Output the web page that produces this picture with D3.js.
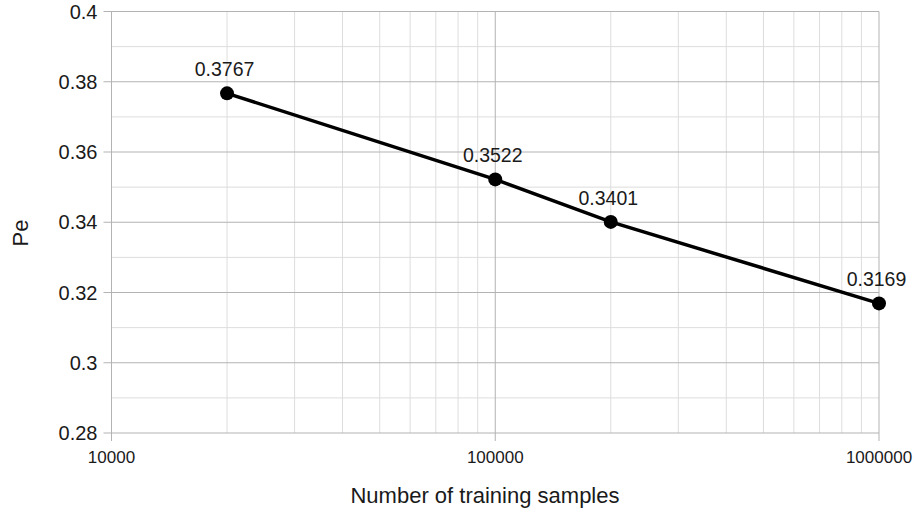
<!DOCTYPE html>
<html>
<head>
<meta charset="utf-8">
<script src="https://cdn.jsdelivr.net/npm/d3@7"></script>
<style>
  body { margin: 0; background: #fff; }
  text { font-family: "Liberation Sans", Arial, sans-serif; fill: #1a1a1a; }
</style>
</head>
<body>
<div id="chart"></div>
<script>
// data
const samples = [20000, 100000, 200000, 1000000];
const pe = [0.3767, 0.3522, 0.3401, 0.3169];
const peLabels = ['0.3767', '0.3522', '0.3401', '0.3169'];
const xTicks = [10000, 100000, 1000000];
const yTicks = [0.28, 0.3, 0.32, 0.34, 0.36, 0.38, 0.4];

const W = 914, H = 512;
const plot = { left: 111.5, right: 879, top: 11.5, bottom: 433 };

const svg = d3.select('#chart')
    .append('svg')
    .attr('width', W)
    .attr('height', H);

const x = d3.scaleLog()
    .domain([10000, 1000000])
    .range([plot.left, plot.right]);

const y = d3.scaleLinear()
    .domain([0.28, 0.4])
    .range([plot.bottom, plot.top]);

// minor grid: 2..9 of each decade, and every 0.01
const xMinor = x.ticks().filter(v => !xTicks.includes(v));
const yMinor = d3.range(0.29, 0.4, 0.02);

const grid = svg.append('g');

grid.selectAll('.xminor')
    .data(xMinor)
    .join('line')
    .attr('x1', d => x(d)).attr('x2', d => x(d))
    .attr('y1', plot.top).attr('y2', plot.bottom)
    .attr('stroke', '#dddddd');

grid.selectAll('.yminor')
    .data(yMinor)
    .join('line')
    .attr('x1', plot.left).attr('x2', plot.right)
    .attr('y1', d => y(d)).attr('y2', d => y(d))
    .attr('stroke', '#dddddd');

// major grid lines, these also reach out as ticks
grid.selectAll('.ymajor')
    .data(yTicks)
    .join('line')
    .attr('x1', plot.left - 8).attr('x2', plot.right)
    .attr('y1', d => y(d)).attr('y2', d => y(d))
    .attr('stroke', '#b3b3b3');

grid.selectAll('.xmajor')
    .data(xTicks)
    .join('line')
    .attr('x1', d => x(d)).attr('x2', d => x(d))
    .attr('y1', plot.top).attr('y2', plot.bottom + 8)
    .attr('stroke', '#b3b3b3');

// tick labels
svg.append('g')
    .selectAll('text')
    .data(yTicks)
    .join('text')
    .attr('x', plot.left - 14)
    .attr('y', d => y(d))
    .attr('text-anchor', 'end')
    .attr('dominant-baseline', 'central')
    .style('font-size', '20px')
    .text(d => d3.format('~g')(d));

svg.append('g')
    .selectAll('text')
    .data(xTicks)
    .join('text')
    .attr('x', d => x(d))
    .attr('y', 463)
    .attr('text-anchor', 'middle')
    .style('font-size', '17px')
    .text(d => d);

// axis titles
svg.append('text')
    .attr('x', 485)
    .attr('y', 503)
    .attr('text-anchor', 'middle')
    .style('font-size', '22px')
    .text('Number of training samples');

svg.append('text')
    .attr('transform', 'translate(28, 233) rotate(-90)')
    .attr('text-anchor', 'middle')
    .style('font-size', '22px')
    .text('Pe');

// series
const points = samples.map((s, i) => ({ s, v: pe[i], label: peLabels[i] }));

const line = d3.line()
    .x(d => x(d.s))
    .y(d => y(d.v));

svg.append('path')
    .datum(points)
    .attr('d', line)
    .attr('fill', 'none')
    .attr('stroke', '#000')
    .attr('stroke-width', 3.5);

svg.selectAll('.dot')
    .data(points)
    .join('circle')
    .attr('cx', d => x(d.s))
    .attr('cy', d => y(d.v))
    .attr('r', 7)
    .attr('fill', '#000');

svg.selectAll('.lbl')
    .data(points)
    .join('text')
    .attr('x', d => x(d.s) - 2.5)
    .attr('y', d => y(d.v) - 17)
    .attr('text-anchor', 'middle')
    .style('font-size', '19.5px')
    .text(d => d.label);
</script>
</body>
</html>
